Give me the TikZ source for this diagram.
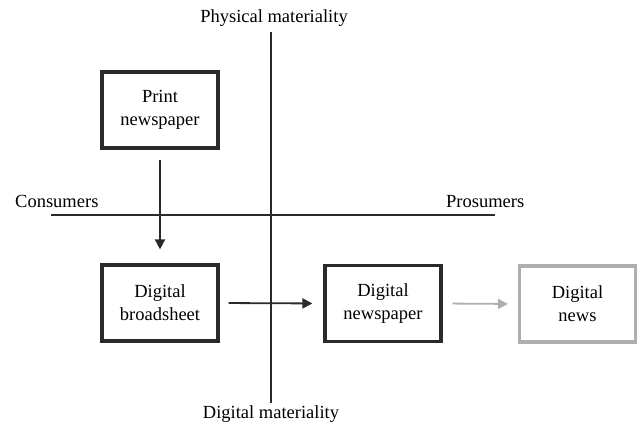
\documentclass[tikz,border=0pt]{standalone}
\usepackage{fontspec}
\setmainfont{Liberation Serif}
\usetikzlibrary{arrows.meta}
\definecolor{ink}{HTML}{2A2A2A}
\definecolor{lightink}{HTML}{AEAEAE}
\tikzset{
  stagebox/.style={draw=ink, line width=3.2pt, minimum width=116pt, minimum height=76pt, align=center, inner sep=0pt, text=black, font=\fontsize{18.5}{23}\selectfont},
  ghostbox/.style={stagebox, draw=lightink},
  axisline/.style={draw=ink, line width=2pt},
  flow/.style={draw=ink, line width=1.8pt, -{Triangle[width=10pt,length=10pt]}},
  ghostflow/.style={draw=lightink, line width=1.8pt, -{Triangle[width=10pt,length=10pt]}},
  axislabel/.style={font=\fontsize{18.5}{23}\selectfont, inner sep=0pt, text=black}
}
\begin{document}
\begin{tikzpicture}[x=1pt,y=-1pt]
\useasboundingbox (0,0) rectangle (639,428);
% axes
\coordinate (vtop) at (271,32);
\coordinate (vbot) at (271,403);
\coordinate (hleft) at (51,215);
\coordinate (hright) at (495,215);
\draw[axisline] (vtop) -- (vbot);
\draw[axisline] (hleft) -- (hright);
% axis labels
\node[axislabel, anchor=base] (phys) at (274,23) {Physical materiality};
\node[axislabel, anchor=base] (digm) at (271,418) {Digital materiality};
\node[axislabel, anchor=base west] (cons) at (15,207) {Consumers};
\node[axislabel, anchor=base west] (pros) at (446,207) {Prosumers};
% boxes
\node[stagebox] (print) at (160,110) {Print\\newspaper};
\node[stagebox] (broad) at (160,303) {Digital\\broadsheet};
\node[stagebox] (dnews) at (383,303.5) {Digital\\newspaper};
\node[ghostbox] (news) at (577.5,304) {Digital\\news};
% arrows
\draw[flow, shorten <=10pt, shorten >=14pt] (print.south) -- (broad.north);
\draw[flow, shorten <=9pt, shorten >=11pt] (broad.east) -- (dnews.west);
\draw[ghostflow, shorten <=10pt, shorten >=10pt] (dnews.east) -- (news.west);
\end{tikzpicture}
\end{document}
